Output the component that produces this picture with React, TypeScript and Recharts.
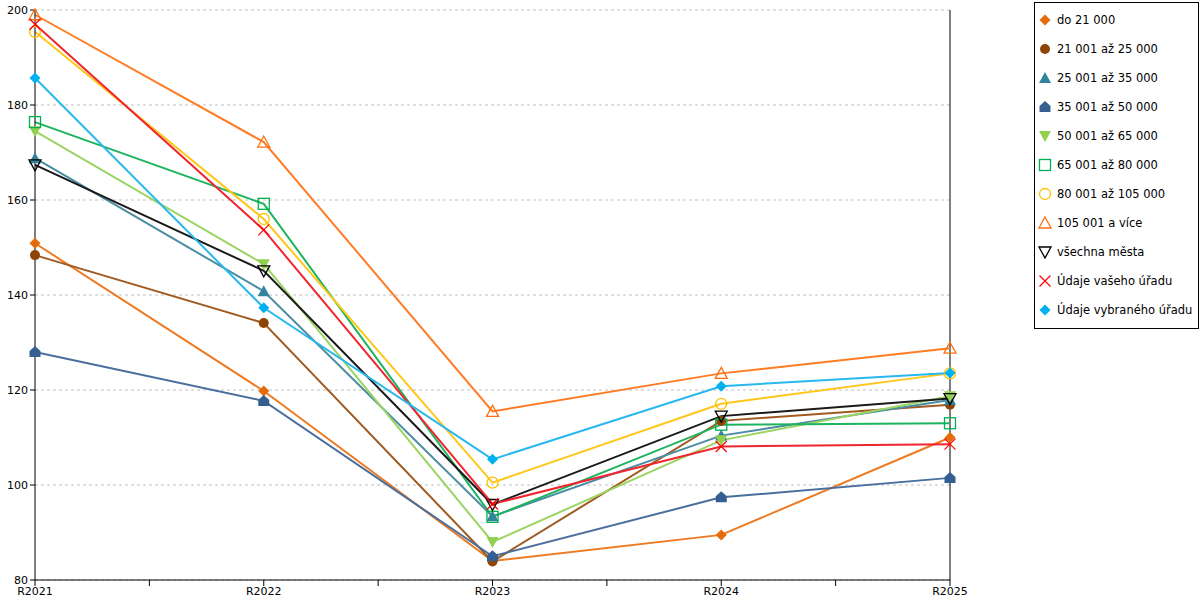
import React from "react";
import {
  LineChart,
  Line,
  XAxis,
  YAxis,
  CartesianGrid,
  ReferenceLine,
} from "recharts";

const categories = ["R2021", "R2022", "R2023", "R2024", "R2025"];
const yTicks = [80, 100, 120, 140, 160, 180, 200];

const do21 = [150.9, 119.8, 84.0, 89.5, 110.0];
const s21to25 = [148.4, 134.1, 83.9, 113.5, 116.9];
const s25to35 = [168.8, 140.8, 93.4, 110.4, 117.9];
const s35to50 = [128.0, 117.7, 85.0, 97.4, 101.5];
const s50to65 = [174.5, 146.5, 88.0, 109.4, 118.7];
const s65to80 = [176.4, 159.2, 93.3, 112.7, 113.0];
const s80to105 = [195.4, 156.0, 100.5, 117.1, 123.5];
const s105plus = [199.0, 172.2, 115.5, 123.5, 128.8];
const allCities = [167.4, 145.1, 95.9, 114.5, 118.2];
const yourOffice = [197.0, 153.7, 96.0, 108.1, 108.6];
const selectedOffice = [185.7, 137.3, 105.4, 120.8, 123.6];

type Shape =
  | "diamond"
  | "circle"
  | "triUp"
  | "house"
  | "triDown"
  | "square"
  | "circleO"
  | "triUpO"
  | "triDownO"
  | "cross";

const series: { key: string; name: string; values: number[]; line: string; marker: string; shape: Shape }[] = [
  { key: "a", name: "do 21 000", values: do21, line: "#EE7A22", marker: "#E46C0A", shape: "diamond" },
  { key: "b", name: "21 001 až 25 000", values: s21to25, line: "#A05A20", marker: "#8E4405", shape: "circle" },
  { key: "c", name: "25 001 až 35 000", values: s25to35, line: "#4A8CA2", marker: "#31849B", shape: "triUp" },
  { key: "d", name: "35 001 až 50 000", values: s35to50, line: "#4A6E9E", marker: "#365F91", shape: "house" },
  { key: "e", name: "50 001 až 65 000", values: s50to65, line: "#9BD462", marker: "#92D050", shape: "triDown" },
  { key: "f", name: "65 001 až 80 000", values: s65to80, line: "#1DB45E", marker: "#00B050", shape: "square" },
  { key: "g", name: "80 001 až 105 000", values: s80to105, line: "#FFC61A", marker: "#FFC000", shape: "circleO" },
  { key: "h", name: "105 001 a více", values: s105plus, line: "#FF7C24", marker: "#FF6F10", shape: "triUpO" },
  { key: "i", name: "všechna města", values: allCities, line: "#1A1A1A", marker: "#000000", shape: "triDownO" },
  { key: "j", name: "Údaje vašeho úřadu", values: yourOffice, line: "#F0262E", marker: "#FF0000", shape: "cross" },
  { key: "k", name: "Údaje vybraného úřadu", values: selectedOffice, line: "#29B8EE", marker: "#00B0F0", shape: "diamond" },
];

const data = categories.map((c, i) => {
  const row: Record<string, number | string> = { x: i, cat: c };
  series.forEach((s) => {
    row[s.key] = s.values[i];
  });
  return row;
});

function marker(shape: Shape, color: string, cx: number, cy: number, key?: string | number) {
  switch (shape) {
    case "diamond":
      return (
        <path key={key} d={`M${cx},${cy - 5.5}L${cx + 5.5},${cy}L${cx},${cy + 5.5}L${cx - 5.5},${cy}Z`} fill={color} stroke="none" />
      );
    case "circle":
      return <circle key={key} cx={cx} cy={cy} r={5} fill={color} />;
    case "triUp":
      return <path key={key} d={`M${cx},${cy - 6}L${cx + 6},${cy + 5}L${cx - 6},${cy + 5}Z`} fill={color} />;
    case "house":
      return (
        <path
          key={key}
          d={`M${cx},${cy - 6}L${cx + 5.5},${cy - 1}L${cx + 5.5},${cy + 5}L${cx - 5.5},${cy + 5}L${cx - 5.5},${cy - 1}Z`}
          fill={color}
        />
      );
    case "triDown":
      return <path key={key} d={`M${cx - 6},${cy - 5}L${cx + 6},${cy - 5}L${cx},${cy + 6}Z`} fill={color} />;
    case "square":
      return <rect key={key} x={cx - 5.5} y={cy - 5.5} width={11} height={11} fill="none" stroke={color} strokeWidth={1.3} />;
    case "circleO":
      return <circle key={key} cx={cx} cy={cy} r={5.5} fill="none" stroke={color} strokeWidth={1.3} />;
    case "triUpO":
      return <path key={key} d={`M${cx},${cy - 6}L${cx + 6},${cy + 5}L${cx - 6},${cy + 5}Z`} fill="none" stroke={color} strokeWidth={1.3} />;
    case "triDownO":
      return <path key={key} d={`M${cx - 6},${cy - 5}L${cx + 6},${cy - 5}L${cx},${cy + 6}Z`} fill="none" stroke={color} strokeWidth={1.3} />;
    case "cross":
      return (
        <path
          key={key}
          d={`M${cx - 5.5},${cy - 5.5}L${cx + 5.5},${cy + 5.5}M${cx + 5.5},${cy - 5.5}L${cx - 5.5},${cy + 5.5}`}
          stroke={color}
          strokeWidth={1.2}
          fill="none"
        />
      );
  }
  return null;
}

const FONT = "'DejaVu Sans', Verdana, sans-serif";

function LegendBox() {
  return (
    <div
      style={{
        position: "absolute",
        left: 1034,
        top: 2,
        border: "1px solid #000",
        width: 165,
        height: 327,
        boxSizing: "border-box",
        fontFamily: FONT,
        fontSize: 11.5,
        color: "#000",
        background: "#fff",
        paddingTop: 10,
      }}
    >
      {series.map((s) => (
        <div key={s.key} style={{ height: 29, display: "flex", alignItems: "flex-start", paddingLeft: 3, whiteSpace: "nowrap" }}>
          <svg width={14} height={14} style={{ marginRight: 5, flex: "none" }}>
            {marker(s.shape, s.marker, 7, 7)}
          </svg>
          <span style={{ lineHeight: "14px" }}>{s.name}</span>
        </div>
      ))}
    </div>
  );
}

export default function App() {
  return (
    <div style={{ position: "absolute", left: 0, top: 0, width: 1200, height: 600, background: "#fff" }}>
      <LineChart width={1200} height={600} data={data} margin={{ top: 10, right: 250, bottom: 0, left: 0 }}>
        <CartesianGrid vertical={false} stroke="#bfbfbf" strokeDasharray="3 3" />
        <XAxis
          type="number"
          dataKey="x"
          domain={[0, 4]}
          ticks={[0, 0.5, 1, 1.5, 2, 2.5, 3, 3.5, 4]}
          tickFormatter={(v: number) => (Number.isInteger(v) ? categories[v] : "")}
          height={20}
          tickSize={6}
          tickMargin={1}
          stroke="#000"
          tick={{ fill: "#000", fontSize: 11, fontFamily: FONT }}
          interval={0}
        />
        <YAxis
          domain={[80, 200]}
          ticks={yTicks}
          width={35}
          tickSize={5}
          tickMargin={2}
          stroke="#000"
          tick={{ fill: "#000", fontSize: 11, fontFamily: FONT }}
          interval={0}
        />
        <ReferenceLine x={4} stroke="#000" strokeWidth={1} />
        {series.map((s) => (
          <Line
            key={s.key}
            type="linear"
            dataKey={s.key}
            name={s.name}
            stroke={s.line}
            strokeWidth={2}
            isAnimationActive={false}
            dot={(p: any) => marker(s.shape, s.marker, p.cx, p.cy, p.key ?? `${s.key}-${p.index}`)}
            activeDot={false}
          />
        ))}
      </LineChart>
      <LegendBox />
    </div>
  );
}
